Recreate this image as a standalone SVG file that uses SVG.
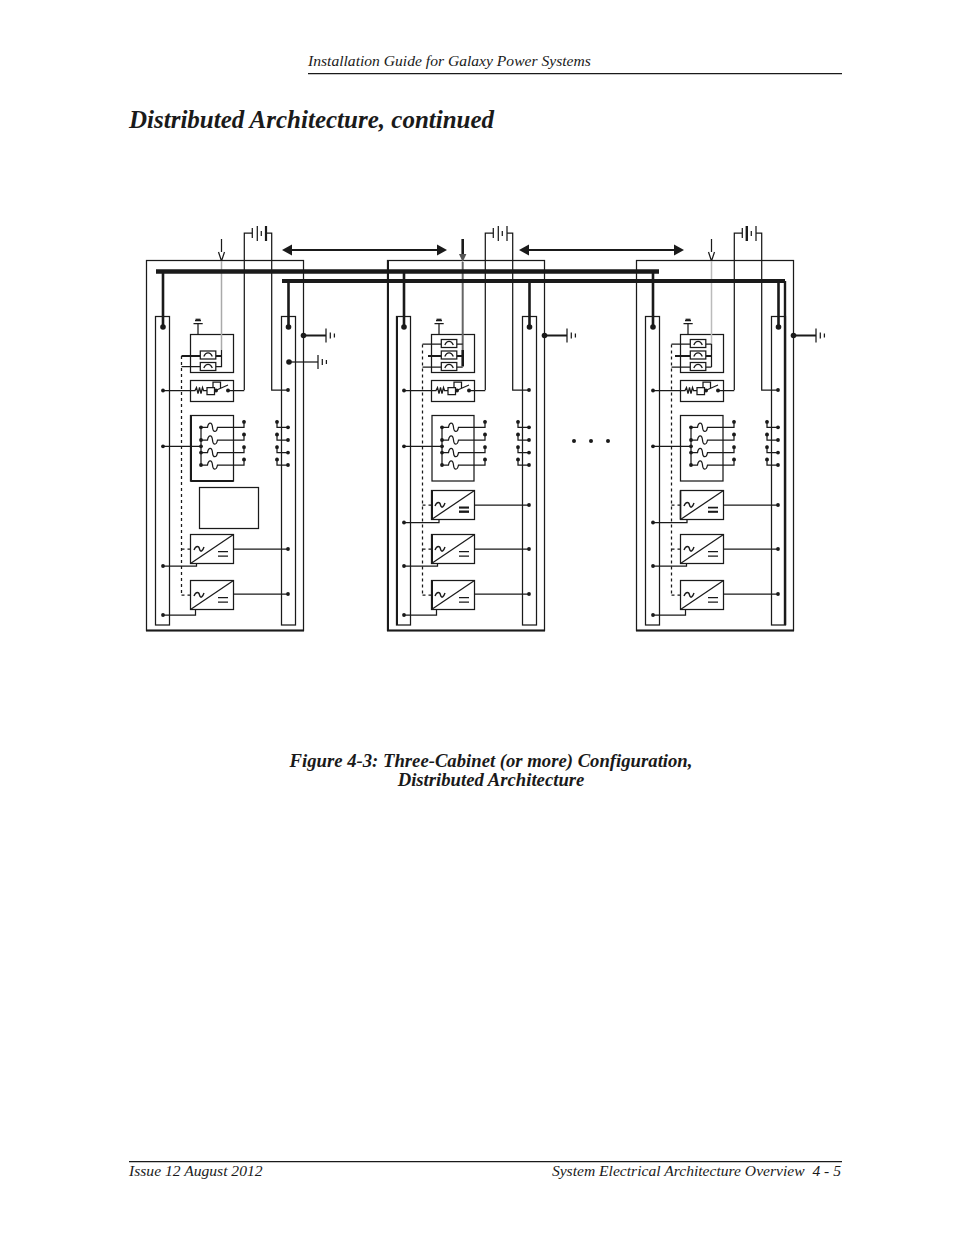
<svg xmlns="http://www.w3.org/2000/svg" xmlns:xlink="http://www.w3.org/1999/xlink" width="954" height="1235" viewBox="0 0 954 1235">
<style>
text{font-family:"Liberation Serif","Times New Roman",serif;font-style:italic;fill:#1a1a1a}
.hf{font-size:15.6px}
.cap{font-size:18.7px;font-weight:bold;text-anchor:middle}
.w{fill:none;stroke:#1a1a1a;stroke-width:1.25}
.b{fill:#fff;stroke:#1a1a1a;stroke-width:1.25}
.t{fill:none;stroke:#1a1a1a;stroke-width:2.6}
.bus{fill:none;stroke:#1a1a1a;stroke-width:4.6}
.d{fill:none;stroke:#1a1a1a;stroke-width:1.25;stroke-dasharray:3 3}
.k{fill:#1a1a1a;stroke:none}
</style>
<defs>
<circle id="dot" r="1.9" class="k"/>
<circle id="bigdot" r="2.8" class="k"/>
<g id="fuse"><rect x="0" y="0" width="15.5" height="8" class="b"/><path d="M3.500 5.500 C5.500 0.500 10 0.500 12 5.500" class="w"/></g>
<g id="rect"><rect width="43" height="29" class="b"/><path d="M0 29 L43 0" class="w"/><path d="M3.500 15.500 C5.500 10.500 8.500 11.500 9 14.500 C10 18 12 17 13.500 12.500" class="w" style="stroke-width:1.400"/><path d="M27.500 17H37.500M27.500 21.500H37.500" class="w"/></g>
<g id="gnd"><path d="M0 -7V7M4.300 -3V3M8.400 -2V2" class="w"/></g>
<g id="batt"><path d="M244.300 390V233H252.300M252.300 228V238M257.300 226V241M261.300 231V236M266 226V241M266 233H271.700V390H288" class="w"/></g>
<g id="relay">
<rect x="190.500" y="380.500" width="43" height="21" class="b"/>
<path d="M163 390.500H195L196.500 387.500L198 393.500L199.500 387.500L201 393.500L202.500 387.500L203.500 390.500H207M207 387.500h7.500v7h-7.500zM213 387.500V382H220.500V388M215.500 390.500L228 385M228 390.500H244.300" class="w"/>
<use href="#dot" x="163" y="390.500"/><use href="#dot" x="288" y="390"/>
<circle cx="216" cy="390.500" r="2" class="k"/><circle cx="228" cy="390.500" r="2" class="k"/>
</g>
<g id="dw"><path d="M0 0H6.500C7.500 -5.500 11 -5.500 11.500 0S15.500 5.500 16.500 0H43V-5.500" class="w"/><use href="#dot"/><path d="M41.500 -4L43 -7.500L44.500 -4z" class="k" stroke="#1a1a1a"/><use href="#dot" x="43" y="-5.500"/></g>
<g id="dr"><path d="M11 0H0V-5.500" class="w"/><use href="#dot" x="11"/><use href="#dot" y="-5.500"/><path d="M-1.500 -4L0 -7.500L1.500 -4z" class="k" stroke="#1a1a1a"/></g>
<g id="dist">
<path d="M201 427.300V465M163 446.300H201" class="w"/>
<use href="#dot" x="163" y="446.300"/><use href="#dot" x="201" y="446.300"/>
<use href="#dw" x="201" y="427.300"/><use href="#dw" x="201" y="440"/><use href="#dw" x="201" y="452.600"/><use href="#dw" x="201" y="465"/>
<use href="#dr" x="277" y="427.300"/><use href="#dr" x="277" y="440"/><use href="#dr" x="277" y="452.600"/><use href="#dr" x="277" y="465"/>
</g>
<g id="rects">
<path d="M233.500 549H288M233.500 594H288M163 566H196.500V563.500M163 615H195.500V609.500" class="w"/>
<path d="M181.500 549H190.500M181.500 595H190.500" class="d"/>
<use href="#rect" x="190.500" y="534.500"/><use href="#rect" x="190.500" y="580.500"/>
<use href="#dot" x="288" y="549"/><use href="#dot" x="288" y="594"/><use href="#dot" x="163" y="566"/><use href="#dot" x="163" y="615"/>
</g>
<g id="top">
<path d="M193.500 323.700H202.700M195 320.500H201" class="w"/><path d="M195.500 319.300H200.500" class="w"/><path d="M198 323.700V334.500" class="w"/>
<rect x="190.500" y="334.500" width="43" height="38" class="b"/>
</g>
<g id="frame">
<rect x="146.500" y="260.500" width="157" height="370" class="w"/>
<path d="M146 630.500H304" class="w" style="stroke-width:2.200"/>
<rect x="155.500" y="316.500" width="14" height="308.500" class="w"/>
<rect x="281.500" y="316.500" width="14" height="308.500" class="w"/>
<path d="M163 271V327M288.500 281V327" class="t"/>
<use href="#bigdot" x="163" y="327"/><use href="#bigdot" x="288.500" y="327"/>
<path d="M303.500 335.500H326" class="w" style="stroke-width:2"/><use href="#bigdot" x="303.500" y="335.500"/><use href="#gnd" x="326" y="335.500"/>
<use href="#batt"/>
</g>
<path id="ah" d="M0 0L10 -5.500V5.500z" class="k"/>
</defs>

<g id="header">
<text class="hf" x="308" y="66">Installation Guide for Galaxy Power Systems</text>
<path d="M308 73.500H842" class="w"/>
<text x="129" y="128" style="font-size:25px;font-weight:bold">Distributed Architecture, continued</text>
</g>

<g id="cabinet-1">
<use href="#frame"/>
<path d="M266 226V241" class="w" style="stroke-width:2.200"/>
<path d="M181.500 356V595" class="d"/>
<use href="#top"/>
<path d="M221.500 239V252" class="w"/><path d="M218.500 252L221.500 261L224.500 252" class="w"/>
<path d="M221.500 261V350" fill="none" stroke="#aaa" stroke-width="1.500"/>
<path d="M221.500 350V366.500H215.700M200.300 366.500H181.500" class="w"/>
<path d="M181.500 356H200.300M215.700 356H221.500" class="w" style="stroke-width:2"/>
<use href="#fuse" x="200.300" y="351"/><use href="#fuse" x="200.300" y="362.500"/>
<use href="#relay"/>
<rect x="190.500" y="415.500" width="43" height="65.500" class="b"/>
<path d="M191 415.500V481" class="w" style="stroke-width:2"/><path d="M190.500 481H233.500" class="w" style="stroke-width:1.800"/>
<use href="#dist"/>
<rect x="199.500" y="487.500" width="59" height="41" class="b"/>
<use href="#rects"/>
<path d="M289 362H318" class="w"/><use href="#bigdot" x="289" y="362"/><use href="#gnd" x="318" y="362"/>
</g>

<g id="cabinet-2" transform="translate(241 0)">
<use href="#frame"/>
<path d="M147 260.500V630" class="w" style="stroke-width:2"/><path d="M156 316.500V625" class="w" style="stroke-width:2"/>
<path d="M181.500 344.500V595" class="d"/>
<path d="M181.500 505H190.500" class="d"/>
<use href="#top"/>
<path d="M221.700 239V254" class="t"/><path d="M218 254L221.700 262L225.400 254z" fill="#555"/>
<path d="M221.700 262V350" fill="none" stroke="#666" stroke-width="2"/>
<path d="M221.700 350V366.500" class="t"/>
<path d="M215.700 344H221.700M215.700 367H221.700M200.300 344H181.500M200.300 367H181.500" class="w"/>
<path d="M187 356H200.300M215.700 356H221.700" class="w" style="stroke-width:2"/>
<use href="#fuse" x="200.300" y="339.500"/><use href="#fuse" x="200.300" y="351"/><use href="#fuse" x="200.300" y="362.500"/>
<use href="#relay"/>
<rect x="191" y="415.500" width="42" height="65.500" class="b"/>
<use href="#dist"/>
<path d="M233.500 505H288M163 522.500H198V519.500" class="w"/>
<use href="#rect" x="190.500" y="490.500"/>
<path d="M191 490.500V519.500" class="w" style="stroke-width:2"/><path d="M218 507.500H228M218 511.500H228" class="w" style="stroke-width:1.800"/>
<use href="#dot" x="288" y="505"/><use href="#dot" x="163" y="522.500"/>
<use href="#rects"/>
<path d="M191 534.500V563.500M191 580.500V609.500" class="w" style="stroke-width:2"/>
</g>

<g id="cabinet-3" transform="translate(490 0)">
<use href="#frame"/>
<path d="M256.700 226V241" class="w" style="stroke-width:2.200"/>
<path d="M295 281V625" class="w" style="stroke-width:2.400"/>
<path d="M181.500 344.500V595" class="d"/>
<path d="M181.500 505H190.500" class="d"/>
<use href="#top"/>
<path d="M221.500 239V252" class="w"/><path d="M218.500 252L221.500 261L224.500 252" class="w"/>
<path d="M221.500 261V350" fill="none" stroke="#bbb" stroke-width="1.500"/>
<path d="M221.500 344V367" class="w"/>
<path d="M215.700 344H221.500M215.700 367H221.500M200.300 344H181.500M200.300 367H181.500" class="w"/>
<path d="M185 356H200.300M215.700 356H221.500" class="w" style="stroke-width:2"/>
<use href="#fuse" x="200.300" y="339.500"/><use href="#fuse" x="200.300" y="351"/><use href="#fuse" x="200.300" y="362.500"/>
<use href="#relay"/>
<rect x="190.500" y="415.500" width="42.500" height="65.500" class="b"/>
<use href="#dist"/>
<path d="M233.500 505H288M163 522.500H197V519.500" class="w"/>
<use href="#rect" x="190.500" y="490.500"/>
<path d="M190.500 490.500V519.500M218 507.500H228M218 511.500H228" class="w" style="stroke-width:1.500"/>
<use href="#dot" x="288" y="505"/><use href="#dot" x="163" y="522.500"/>
<use href="#rects"/>
</g>

<g id="connectors">
<path d="M156 271.500H659" class="bus"/>
<path d="M282 281H785" class="bus" style="stroke-width:4"/>
<path d="M288 250H441M525 250H677" class="w" style="stroke-width:2"/>
<use href="#ah" x="282" y="250"/>
<path d="M447 250L437 244.500V255.500z" class="k"/>
<use href="#ah" x="519" y="250"/>
<path d="M684 250L674 244.500V255.500z" class="k"/>
</g>

<g id="ellipsis">
<circle cx="574" cy="441" r="2" class="k"/><circle cx="591" cy="441" r="2" class="k"/><circle cx="608" cy="441" r="2" class="k"/>
</g>

<g id="caption">
<text class="cap" x="491" y="767">Figure 4-3: Three-Cabinet (or more) Configuration,</text>
<text class="cap" x="491" y="786">Distributed Architecture</text>
</g>

<g id="footer">
<path d="M129 1161.500H842" class="w"/>
<text class="hf" x="129" y="1176">Issue 12 August 2012</text>
<text class="hf" x="841" y="1176" text-anchor="end" xml:space="preserve">System Electrical Architecture Overview  4 - 5</text>
</g>
</svg>
